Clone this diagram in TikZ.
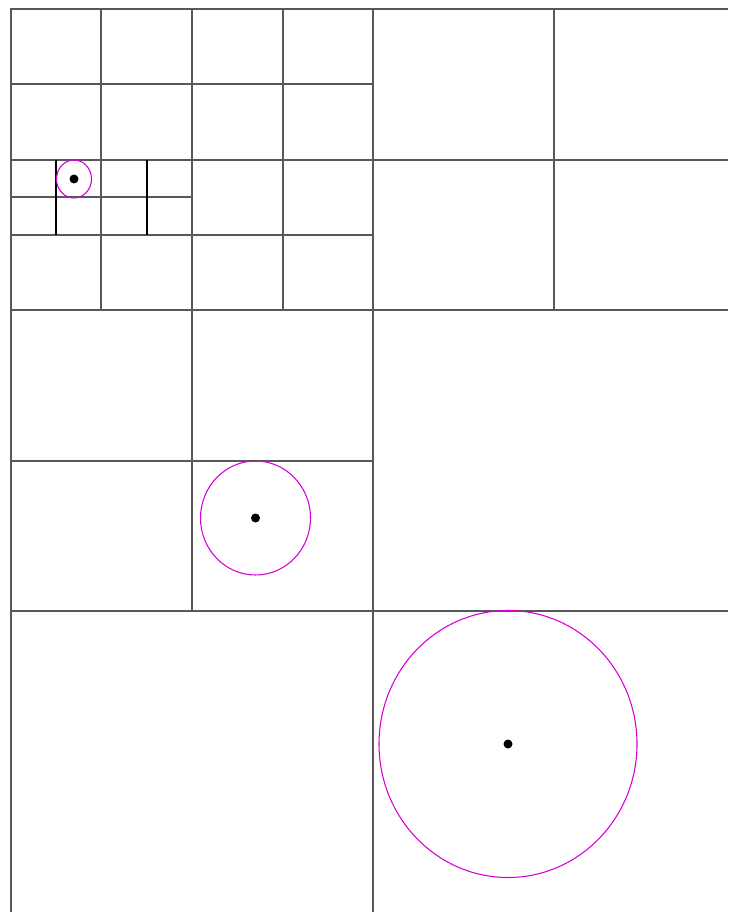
\documentclass[tikz,border=0pt]{standalone}
\usepackage{xcolor}
\usepackage{tikz}
\definecolor{qgray}{RGB}{88,88,88}
\definecolor{qmag}{RGB}{214,0,214}

\begin{document}
\begin{tikzpicture}[
    x=0.75pt, y=-0.75pt,
    cell/.style={draw=qgray, line width=1.5pt},
    fine/.style={draw=black, line width=0.8pt},
    ring/.style={draw=qmag, line width=0.8pt},
    dot/.style={fill=black}
]
\useasboundingbox (0,0) rectangle (728,912);
\draw[cell] (11,912) -- (11,9) -- (728,9);
\draw[cell] (373,9) -- (373,912);
\foreach \y in {160,310,611}
    \draw[cell] (11,\y) -- (728,\y);
\foreach \y in {84,235}
    \draw[cell] (11,\y) -- (373,\y);
\foreach \x in {101,192,283}
    \draw[cell] (\x,9) -- (\x,310);
\draw[cell] (554,9) -- (554,310);
\draw[cell] (192,310) -- (192,611);
\draw[cell] (11,461) -- (373,461);
\draw[cell] (11,197) -- (192,197);
\foreach \x in {56,147}
    \draw[fine] (\x,160) -- (\x,235);
\coordinate (p1) at (74,179);
\coordinate (p2) at (255.5,518);
\coordinate (p3) at (508,744);
\draw[ring] (p1) ellipse [x radius=17.5, y radius=19];
\draw[ring] (p2) ellipse [x radius=55, y radius=57];
\draw[ring] (p3) ellipse [x radius=129, y radius=133.5];
\foreach \p in {p1,p2,p3}
    \fill[dot] (\p) circle [radius=4.5];
\end{tikzpicture}
\end{document}
